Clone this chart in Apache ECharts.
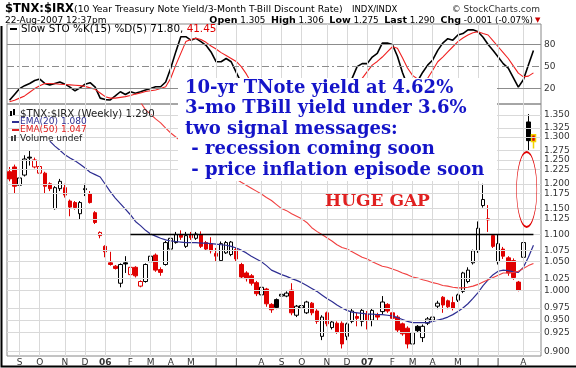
<!DOCTYPE html>
<html><head><meta charset="utf-8">
<script src="https://cdn.jsdelivr.net/npm/echarts@6/dist/echarts.min.js"></script>
<style>html,body{margin:0;padding:0;background:#fff}#c{width:576px;height:368px}</style>
</head><body><div id="c"></div>
<script>
// ---------- DATA ----------
// weekly bars, one per week (Monday dates), from 22-Aug-2005
const weekDates = [];
(function () { let t = Date.UTC(2005, 7, 22); for (let i = 0; i < 106; i++) { weekDates.push(new Date(t).toISOString().slice(0, 10)); t += 7 * 864e5; } })();

const opens = [1.225,1.235,1.197,1.218,1.256,1.235,1.222,1.222,1.200,1.150,1.190,1.192,1.165,1.162,1.140,1.190,1.180,1.142,1.098,1.078,
1.048,1.042,1.012,1.048,1.027,1.040,1.007,1.015,1.050,1.062,1.036,1.045,1.073,1.085,1.100,1.078,1.100,1.093,1.100,1.085,
1.083,1.065,1.052,1.066,1.063,1.072,1.045,1.030,1.025,1.013,0.992,1.002,0.976,0.984,0.990,0.990,1.000,0.958,0.970,0.962,
0.978,0.965,0.924,0.962,0.938,0.945,0.945,0.924,0.948,0.956,0.948,0.960,0.950,0.958,0.964,0.976,0.962,0.955,0.944,0.937,
0.912,0.940,0.922,0.945,0.950,0.973,0.988,0.982,0.979,0.983,0.998,1.015,1.048,1.070,1.156,1.130,1.098,1.050,1.073,1.057,
1.052,1.014,1.058,1.334,1.305];
const closes = [1.210,1.195,1.212,1.252,1.254,1.250,1.236,1.195,1.190,1.192,1.205,1.177,1.153,1.152,1.162,1.188,1.162,1.123,1.104,1.068,
1.045,1.038,1.045,1.046,1.040,1.025,1.015,1.045,1.060,1.035,1.031,1.085,1.093,1.100,1.095,1.098,1.094,1.101,1.078,1.073,
1.070,1.060,1.083,1.085,1.086,1.055,1.023,1.020,1.012,0.994,1.005,0.977,0.967,0.971,0.993,0.995,0.962,0.973,0.974,0.980,
0.962,0.948,0.955,0.944,0.947,0.931,0.912,0.944,0.965,0.953,0.966,0.950,0.966,0.955,0.980,0.965,0.953,0.934,0.928,0.912,
0.930,0.933,0.940,0.952,0.955,0.978,0.975,0.972,0.970,0.992,1.030,1.035,1.070,1.112,1.168,1.128,1.078,1.083,1.060,1.030,
1.022,1.000,1.085,1.292,1.290];
const lows = [1.205,1.180,1.190,1.215,1.238,1.232,1.220,1.180,1.185,1.148,1.185,1.172,1.135,1.148,1.128,1.175,1.160,1.120,1.093,1.058,
1.043,1.036,1.005,1.030,1.025,1.022,1.005,1.013,1.048,1.032,1.025,1.043,1.070,1.083,1.090,1.075,1.090,1.090,1.075,1.070,
1.065,1.050,1.050,1.064,1.060,1.050,1.020,1.015,1.008,0.990,0.990,0.972,0.962,0.968,0.986,0.988,0.958,0.955,0.962,0.960,
0.958,0.944,0.918,0.940,0.935,0.928,0.905,0.918,0.945,0.940,0.940,0.935,0.940,0.950,0.960,0.962,0.950,0.930,0.925,0.905,
0.908,0.930,0.915,0.942,0.948,0.968,0.962,0.968,0.966,0.980,0.995,1.012,1.045,1.066,1.152,1.105,1.075,1.045,1.055,1.025,
1.018,0.998,1.055,1.270,1.275];
const highs = [1.235,1.240,1.215,1.260,1.270,1.255,1.240,1.225,1.203,1.195,1.210,1.200,1.168,1.165,1.165,1.200,1.185,1.145,1.106,1.080,
1.068,1.044,1.047,1.060,1.042,1.042,1.017,1.047,1.062,1.065,1.040,1.088,1.098,1.105,1.108,1.105,1.105,1.105,1.106,1.088,
1.095,1.075,1.087,1.088,1.088,1.075,1.048,1.033,1.028,1.016,1.008,1.004,0.978,0.986,0.996,0.998,1.012,0.975,0.980,0.982,
0.980,0.968,0.958,0.964,0.950,0.948,0.948,0.946,0.970,0.962,0.970,0.965,0.970,0.962,0.990,0.978,0.966,0.958,0.946,0.940,
0.932,0.942,0.943,0.955,0.960,0.982,0.990,0.984,0.989,0.994,1.032,1.040,1.072,1.125,1.200,1.157,1.100,1.100,1.077,1.060,
1.056,1.016,1.105,1.352,1.306];
const ema20 = [null,null,null,null,null,null,null,null,1.291,1.280,1.271,1.261,1.254,1.248,1.241,1.233,1.224,1.219,1.214,1.199,
1.184,1.171,1.160,1.149,1.138,1.125,1.117,1.108,1.101,1.097,1.093,1.090,1.088,1.087,1.086,1.085,1.085,1.085,1.084,1.084,
1.083,1.082,1.081,1.080,1.078,1.075,1.071,1.066,1.060,1.055,1.050,1.043,1.035,1.031,1.027,1.024,1.020,1.017,1.013,1.008,
1.003,0.998,0.992,0.986,0.981,0.975,0.970,0.966,0.963,0.962,0.961,0.960,0.960,0.959,0.959,0.958,0.957,0.954,0.951,0.948,
0.946,0.946,0.946,0.946,0.948,0.950,0.952,0.955,0.959,0.964,0.970,0.977,0.986,0.996,1.008,1.018,1.027,1.033,1.035,1.034,
1.032,1.031,1.040,1.058,1.080];
const ema50 = [null,null,null,null,null,null,null,null,null,null,null,null,null,null,null,null,null,null,null,null,
null,null,null,null,null,null,1.380,1.362,1.352,1.341,1.332,1.320,1.309,1.300,1.291,1.282,1.274,1.265,1.256,1.250,
1.243,1.237,1.230,1.224,1.218,1.210,1.203,1.197,1.191,1.185,1.179,1.172,1.166,1.158,1.150,1.146,1.140,1.135,1.130,1.123,
1.113,1.106,1.100,1.094,1.088,1.081,1.076,1.073,1.068,1.063,1.058,1.055,1.050,1.046,1.042,1.040,1.037,1.034,1.030,1.027,
1.023,1.021,1.018,1.016,1.013,1.011,1.008,1.007,1.005,1.004,1.004,1.005,1.007,1.010,1.014,1.018,1.022,1.026,1.030,1.030,
1.031,1.033,1.038,1.043,1.047];
const stoK = [4,12,20,24,27,31,33,27,25,27,29,26,22,17,21,26,28,22,7,5,
4.5,10,15.7,12,15.7,13.5,15.7,18,20,22.5,22.5,29,47.6,70,90.7,90.7,86,88.5,84,79,
70,56.6,56.6,61,56.6,42,28,18,null,null,null,null,null,null,null,null,null,null,null,null,
null,null,null,null,null,null,null,18,34,50,54,54,63,68,82,82,80,64,42,24,
20,30,42,52,59,72,82,88,86,93,95,100,100,97.5,90,80,72,63,54,48,
35,22,32,52,71.8];
const stoD = [2,4,7,10,15,20,24,27,27,26.5,26,25.5,25,24.5,24,23,21,19,14,9,
7,7,8,9,10.5,12.5,14,16,17,18,20,22.5,34,52,68,84,87,88.5,87,83,
78,74,69,65,61,57,50,40,28,null,null,null,null,null,null,null,null,null,null,null,
null,null,null,null,null,null,null,null,null,25,34,43,52,57,63,70,77,75,62,48,
38,33,32,34,45,56.6,63,70,77,84,89,93,96,97.5,95,93,85,77,69,61,
51,41,36,37,41.45];
const priceTicks = [0.900,0.925,0.950,0.975,1.000,1.025,1.050,1.075,1.100,1.125,1.150,1.175,1.200,1.225,1.250,1.275,1.300,1.325,1.350];
const stoLevels = [80, 50, 20];
const resistance = 1.100;
const resistanceFrom = 24, resistanceTo = 104;
const monthLetters = ['J','F','M','A','M','J','J','A','S','O','N','D'];

// ---------- derived ----------
const isMonthStart = weekDates.map((d, i) => i > 0 && d.slice(5, 7) !== weekDates[i - 1].slice(5, 7));
const monthIdx = []; isMonthStart.forEach((v, i) => { if (v) monthIdx.push(i); });
const RED = '#e00000', BLK = '#000000';
const candles = opens.map((o, i) => {
  const c = closes[i], prev = i > 0 ? closes[i - 1] : o;
  const col = c < prev ? RED : BLK;
  const fill = c >= o ? '#ffffff' : col;
  const item = { value: [o, c, lows[i], highs[i]], itemStyle: { color: fill, color0: fill, borderColor: col, borderColor0: col } };
  if (i === opens.length - 1) { item.itemStyle.borderColor = '#f2d400'; item.itemStyle.borderColor0 = '#f2d400'; item.itemStyle.borderWidth = 1.5; }
  return item;
});
const GRID = '#d9d9d9';
const vLines = monthIdx.map(i => ({ xAxis: i, lineStyle: { color: GRID, width: 1, type: 'solid' }, label: { show: false } }));
const hLines = priceTicks.map(t => ({ yAxis: t, name: t.toFixed(3), lineStyle: { color: GRID, width: 1, type: 'solid' },
  label: { show: true, position: 'end', formatter: '{b}', distance: 3, fontSize: 9, color: '#333', fontFamily: 'DejaVu Sans' } }));
const stoLines = stoLevels.map(l => ({ yAxis: l, name: String(l), lineStyle: { color: '#8c8c8c', width: 1.2, type: l === 50 ? [7, 3, 2, 3] : 'solid' },
  label: { show: true, position: 'end', formatter: '{b}', distance: 3, fontSize: 9, color: '#333', fontFamily: 'DejaVu Sans' } }));

const chart = echarts.init(document.getElementById('c'), null, { renderer: 'canvas' });
const FONT = 'DejaVu Sans';
const option = {
  animation: false,
  backgroundColor: '#fff',
  grid: [
    { left: 7, right: 35, top: 24, height: 80, show: true, borderColor: '#888', borderWidth: 1, outerBoundsMode: 'none' },
    { left: 7, right: 35, top: 104, height: 252, show: true, borderColor: '#888', borderWidth: 1, outerBoundsMode: 'none' }
  ],
  xAxis: [
    { type: 'category', gridIndex: 0, data: weekDates, boundaryGap: true, axisLabel: { show: false }, axisTick: { show: false }, axisLine: { show: false }, splitLine: { show: false } },
    { type: 'category', gridIndex: 1, data: weekDates, boundaryGap: true, axisTick: { show: false }, axisLine: { show: false }, splitLine: { show: false },
      axisLabel: { interval: (i) => isMonthStart[i], margin: 2, fontSize: 9, color: '#333', fontFamily: FONT,
        formatter: (v) => { const m = +v.slice(5, 7) - 1; return m === 0 ? '{y|' + v.slice(2, 4) + '}' : monthLetters[m]; },
        rich: { y: { fontWeight: 'bold', fontSize: 9, color: '#333', fontFamily: FONT } } } }
  ],
  yAxis: [
    { type: 'value', gridIndex: 0, min: -1, max: 108, show: false },
    { type: 'log', gridIndex: 1, min: 0.8934, max: 1.3757, position: 'right', axisLabel: { show: false }, axisTick: { show: false }, axisLine: { show: false }, splitLine: { show: false } }
  ],
  series: [
    { type: 'line', xAxisIndex: 0, yAxisIndex: 0, data: [], z: 1, silent: true,
      markLine: { silent: true, symbol: ['none', 'none'], animation: false, data: vLines.concat(stoLines) } },
    { type: 'line', xAxisIndex: 1, yAxisIndex: 1, data: [], z: 1, silent: true,
      markLine: { silent: true, symbol: ['none', 'none'], animation: false, data: vLines.concat(hLines) } },
    { type: 'candlestick', xAxisIndex: 1, yAxisIndex: 1, data: candles, barWidth: 4, z: 3,
      itemStyle: { borderWidth: 1 },
      markLine: { silent: true, symbol: ['none', 'none'], animation: false, label: { show: false },
        lineStyle: { color: '#000', width: 1.4, type: 'solid' },
        data: [[{ coord: [resistanceFrom, resistance] }, { coord: [resistanceTo, resistance] }]] } },
    { type: 'line', xAxisIndex: 1, yAxisIndex: 1, data: ema20, showSymbol: false, z: 4, lineStyle: { color: '#2e2e92', width: 1.2 }, connectNulls: false },
    { type: 'line', xAxisIndex: 1, yAxisIndex: 1, data: ema50, showSymbol: false, z: 4, lineStyle: { color: '#f04040', width: 1.1 }, connectNulls: false },
    { type: 'line', xAxisIndex: 0, yAxisIndex: 0, data: stoK, showSymbol: false, z: 4, lineStyle: { color: '#000', width: 1.6 } },
    { type: 'line', xAxisIndex: 0, yAxisIndex: 0, data: stoD, showSymbol: false, z: 4, lineStyle: { color: '#f02020', width: 1.1 } }
  ],
  graphic: [
    // outer frame (left and bottom edge)
    { type: 'polyline', z: 100, shape: { points: [[1.5, 26], [1.5, 366.5], [576, 366.5]] }, style: { stroke: '#000', lineWidth: 2, fill: 'none' } },
    // header
    { type: 'text', x: 5, y: 9, z: 100, style: { text: '$TNX:$IRX', font: 'bold 11.5px "DejaVu Sans"', fill: '#000', verticalAlign: 'middle' } },
    { type: 'text', x: 74, y: 9.5, z: 100, style: { text: '(10 Year Treasury Note Yield/3-Month T-Bill Discount Rate)', font: '9.3px "DejaVu Sans"', fill: '#000', verticalAlign: 'middle' } },
    { type: 'text', x: 352, y: 9.5, z: 100, style: { text: 'INDX/INDX', font: '8.5px "DejaVu Sans"', fill: '#000', verticalAlign: 'middle' } },
    { type: 'text', x: 540, y: 9.5, z: 100, style: { text: '© StockCharts.com', font: '9px "DejaVu Sans"', fill: '#333', align: 'right', verticalAlign: 'middle' } },
    { type: 'text', x: 5, y: 20.5, z: 100, style: { text: '22-Aug-2007 12:37pm', font: '9px "DejaVu Sans"', fill: '#000', verticalAlign: 'middle' } },
    { type: 'text', x: 533, y: 20.5, z: 100, style: { text: '{b|Open} 1.305  {b|High} 1.306  {b|Low} 1.275  {b|Last} 1.290  {b|Chg} -0.001 (-0.07%)', font: '8.8px "DejaVu Sans"', fill: '#000', align: 'right', verticalAlign: 'middle',
      rich: { b: { font: 'bold 9.5px "DejaVu Sans"', fill: '#000' } } } },
    { type: 'text', x: 535, y: 20.5, z: 100, style: { text: '▼', font: '7px "DejaVu Sans"', fill: '#c00', verticalAlign: 'middle' } },
    // STO legend
    { type: 'line', z: 100, shape: { x1: 10, y1: 29, x2: 17, y2: 29 }, style: { stroke: '#000', lineWidth: 2 } },
    { type: 'text', x: 21, y: 29, z: 100, style: { text: 'Slow STO %K(15) %D(5) 71.80, {r|41.45}', font: '10.4px "DejaVu Sans"', fill: '#000', verticalAlign: 'middle', rich: { r: { fill: '#e00000', font: '10.4px "DejaVu Sans"' } } } },
    // price legend
    { type: 'rect', z: 100, shape: { x: 10, y: 111, width: 2, height: 5 }, style: { fill: '#000' } },
    { type: 'rect', z: 100, shape: { x: 13, y: 109, width: 2, height: 6 }, style: { fill: '#000' } },
    { type: 'text', x: 20, y: 114, z: 100, style: { text: '$TNX:$IRX (Weekly) 1.290', font: '10.2px "DejaVu Sans"', fill: '#222', verticalAlign: 'middle' } },
    { type: 'line', z: 100, shape: { x1: 12, y1: 122, x2: 19, y2: 122 }, style: { stroke: '#2e2e92', lineWidth: 2 } },
    { type: 'text', x: 20, y: 122, z: 100, style: { text: 'EMA(20) 1.080', font: '9px "DejaVu Sans"', fill: '#2e2e92', verticalAlign: 'middle' } },
    { type: 'line', z: 100, shape: { x1: 12, y1: 130, x2: 19, y2: 130 }, style: { stroke: '#e02020', lineWidth: 2 } },
    { type: 'text', x: 20, y: 130, z: 100, style: { text: 'EMA(50) 1.047', font: '9px "DejaVu Sans"', fill: '#e02020', verticalAlign: 'middle' } },
    { type: 'rect', z: 100, shape: { x: 11, y: 136, width: 2, height: 5 }, style: { fill: '#444' } },
    { type: 'rect', z: 100, shape: { x: 14, y: 135, width: 2, height: 6 }, style: { fill: '#444' } },
    { type: 'text', x: 20, y: 138.5, z: 100, style: { text: 'Volume undef', font: '9px "DejaVu Sans"', fill: '#222', verticalAlign: 'middle' } },
    // annotation box
    { type: 'rect', z: 50, shape: { x: 178, y: 78, width: 319, height: 103 }, style: { fill: '#fff' } },
    { type: 'text', x: 185, y: 88, z: 51, style: { text: '10-yr TNote yield at 4.62%', font: 'bold 18px "DejaVu Serif"', fill: '#1414c8', verticalAlign: 'middle' } },
    { type: 'text', x: 185, y: 108.5, z: 51, style: { text: '3-mo TBill yield under 3.6%', font: 'bold 18px "DejaVu Serif"', fill: '#1414c8', verticalAlign: 'middle' } },
    { type: 'text', x: 185, y: 129, z: 51, style: { text: 'two signal messages:', font: 'bold 18px "DejaVu Serif"', fill: '#1414c8', verticalAlign: 'middle' } },
    { type: 'text', x: 185, y: 149.5, z: 51, style: { text: ' - recession coming soon', font: 'bold 18px "DejaVu Serif"', fill: '#1414c8', verticalAlign: 'middle' } },
    { type: 'text', x: 185, y: 170, z: 51, style: { text: ' - price inflation episode soon', font: 'bold 18px "DejaVu Serif"', fill: '#1414c8', verticalAlign: 'middle' } },
    { type: 'text', x: 377.5, y: 202, z: 51, style: { text: 'HUGE GAP', font: 'bold 17px "DejaVu Serif"', fill: '#e02020', align: 'center', verticalAlign: 'middle' } },
    { type: 'circle', z: 51, x: 526.7, y: 189.5, scaleX: 0.27, shape: { cx: 0, cy: 0, r: 37.5 }, style: { fill: 'none', stroke: '#e00000', lineWidth: 2, strokeNoScale: true } }
  ]
};
chart.setOption(option);
</script>
</body></html>
